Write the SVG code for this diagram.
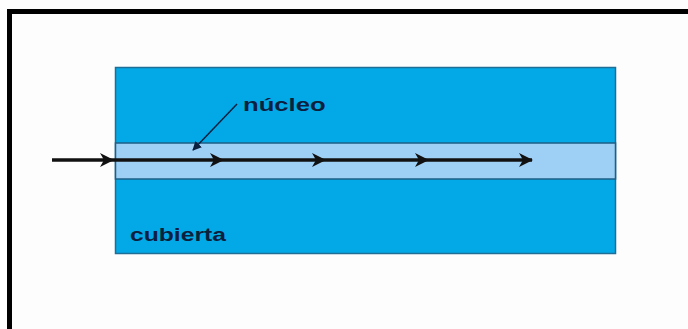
<svg xmlns="http://www.w3.org/2000/svg" width="688" height="329" viewBox="0 0 688 329">
<style>
.lbl{font-family:"Liberation Sans",Arial,sans-serif;font-weight:bold;font-size:19px;fill:#0b1f3f}
.ray{stroke:#111;stroke-width:3.5;fill:none}
</style>
<defs>
<marker id="ah" viewBox="0 0 14 14" refX="13" refY="7" markerWidth="14" markerHeight="14" markerUnits="userSpaceOnUse" orient="auto">
<path d="M0,0 L14,7 L0,14 L4,7 Z" fill="#111"/>
</marker>
<marker id="ah2" viewBox="0 0 10 10" refX="9" refY="5" markerWidth="9" markerHeight="9" markerUnits="userSpaceOnUse" orient="auto">
<path d="M0,0 L10,5 L0,10 Z" fill="#0b1f3f"/>
</marker>
</defs>
<rect x="0" y="0" width="688" height="329" fill="#fdfdfd"/>
<path d="M9.5,329 V11.5 H688" fill="none" stroke="#000" stroke-width="5"/>
<g id="cubierta">
<rect x="115.5" y="67.5" width="500" height="186" fill="#03a9e6" stroke="#1d6f98" stroke-width="1.5"/>
<text class="lbl" transform="translate(130,241) scale(1.3,1)" x="0" y="0">cubierta</text>
</g>
<g id="nucleo">
<rect x="115.5" y="143" width="500" height="36" fill="#9ecff5" stroke="#1d5f86" stroke-width="1.5"/>
<text class="lbl" transform="translate(243,111) scale(1.35,1)" x="0" y="0">núcleo</text>
</g>
<g id="connectors">
<line class="ray" x1="52" y1="160" x2="113" y2="160" marker-end="url(#ah)"/>
<line class="ray" x1="113" y1="160" x2="223" y2="160" marker-end="url(#ah)"/>
<line class="ray" x1="223" y1="160" x2="325" y2="160" marker-end="url(#ah)"/>
<line class="ray" x1="325" y1="160" x2="428" y2="160" marker-end="url(#ah)"/>
<line class="ray" x1="428" y1="160" x2="532" y2="160" marker-end="url(#ah)"/>
<line x1="237" y1="104" x2="193" y2="150" stroke="#0b1f3f" stroke-width="1.5" marker-end="url(#ah2)"/>
</g>
</svg>
